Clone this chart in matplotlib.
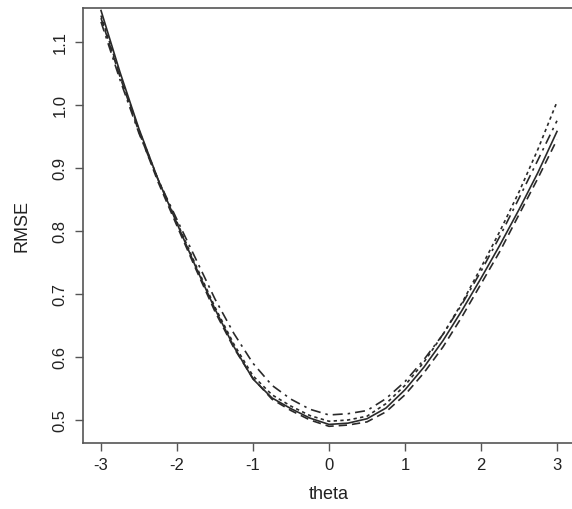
import matplotlib
matplotlib.use('Agg')
import matplotlib.pyplot as plt

plt.rcParams['font.family'] = ['Liberation Sans', 'DejaVu Sans']

theta = [-3.0, -2.75, -2.5, -2.25, -2.0, -1.75, -1.5, -1.25, -1.0, -0.75, -0.5, -0.25,
         0.0, 0.25, 0.5, 0.75, 1.0, 1.25, 1.5, 1.75, 2.0, 2.25, 2.5, 2.75, 3.0]

rmse_solid   = [1.150, 1.052, 0.962, 0.882, 0.812, 0.742, 0.676, 0.616, 0.565, 0.535, 0.518, 0.503,
                0.493, 0.495, 0.502, 0.519, 0.548, 0.584, 0.626, 0.674, 0.725, 0.778, 0.834, 0.893, 0.958]
rmse_dashed  = [1.138, 1.045, 0.957, 0.878, 0.808, 0.739, 0.672, 0.614, 0.566, 0.533, 0.515, 0.500,
                0.490, 0.492, 0.497, 0.513, 0.540, 0.575, 0.616, 0.664, 0.716, 0.768, 0.826, 0.884, 0.945]
rmse_dotted  = [1.142, 1.048, 0.960, 0.882, 0.814, 0.745, 0.679, 0.620, 0.570, 0.540, 0.522, 0.507,
                0.498, 0.500, 0.506, 0.526, 0.555, 0.592, 0.636, 0.686, 0.742, 0.800, 0.862, 0.930, 1.005]
rmse_dotdash = [1.132, 1.040, 0.955, 0.882, 0.818, 0.755, 0.692, 0.637, 0.590, 0.555, 0.533, 0.517,
                0.508, 0.510, 0.515, 0.534, 0.561, 0.596, 0.636, 0.684, 0.736, 0.792, 0.852, 0.913, 0.975]

xticks = [-3, -2, -1, 0, 1, 2, 3]
yticks = [0.5, 0.6, 0.7, 0.8, 0.9, 1.0, 1.1]

fig = plt.figure(figsize=(5.72, 5.09), dpi=100)
ax = fig.add_axes([83/572, 66/509, 492/572, 435/509])

ax.plot(theta, rmse_solid, color='#2a2a2a', lw=1.2, ls='-')
ax.plot(theta, rmse_dashed, color='#2a2a2a', lw=1.2, ls=(0, (5, 3)))
ax.plot(theta, rmse_dotted, color='#2a2a2a', lw=1.2, ls=(0, (2, 2)))
ax.plot(theta, rmse_dotdash, color='#2a2a2a', lw=1.2, ls=(0, (6, 3, 1.5, 3)))

ax.set_xlim(-3.237, 3.237)
ax.set_ylim(0.4635, 1.154)
ax.set_xticks(xticks)
ax.set_xticklabels(['%d' % t for t in xticks])
ax.set_yticks(yticks)
ax.set_yticklabels(['%.1f' % t for t in yticks], rotation=90, va='center')

for s in ax.spines.values():
	s.set_color('#555555')
	s.set_linewidth(1.2)
ax.tick_params(axis='both', length=6, width=1.0, color='#555555', labelsize=12, labelcolor='#222222')
ax.tick_params(axis='x', pad=5)
ax.tick_params(axis='y', pad=5)

ax.set_xlabel('theta', fontsize=13, color='#222222', labelpad=9)
ax.set_ylabel('RMSE', fontsize=13, color='#222222', labelpad=16)

fig.savefig('out.png', dpi=100)
